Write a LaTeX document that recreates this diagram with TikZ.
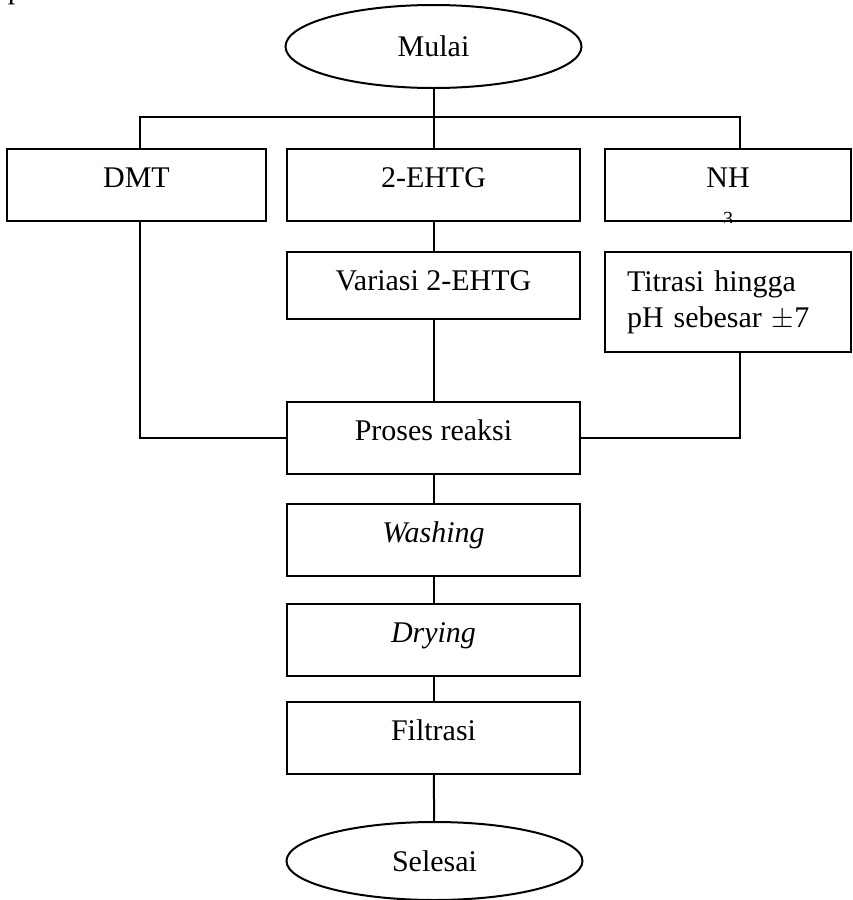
\documentclass[tikz,border=0pt]{standalone}
\usepackage{fontspec}
\setmainfont{Liberation Serif}
\usetikzlibrary{shapes.geometric}
\begin{document}
\begin{tikzpicture}[x=0.5pt, y=-0.5pt, line width=1pt,
  stepbox/.style={rectangle, draw, inner sep=0pt, minimum width=146.5pt, minimum height=36pt, text height=19pt, text depth=17pt, font=\fontsize{15}{18}\selectfont},
  endnode/.style={ellipse, draw, inner sep=0pt, minimum width=148pt, font=\fontsize{15}{18}\selectfont}]
  \useasboundingbox (0,0) rectangle (852,900);
  \node[anchor=base west, inner sep=0pt, font=\fontsize{15}{18}\selectfont] (pfrag) at (7,-1.5) {p};

  \node[endnode, minimum height=41.5pt] (mulai) at (433.5,46.5) {Mulai};
  \node[stepbox, minimum width=129.5pt] (dmt) at (136.5,185) {DMT};
  \node[stepbox] (ehtg) at (433.5,185) {2-EHTG};
  \node[stepbox, minimum width=123pt] (nh) at (728,185) {NH};
  \node[stepbox, minimum height=33.5pt, text depth=14.5pt] (variasi) at (433.5,285.5) {Variasi 2-EHTG};
  \node[rectangle, draw, minimum width=123pt, minimum height=50pt, text width=101pt, inner xsep=11pt, inner ysep=0pt, align=left, font=\fontsize{15}{18}\selectfont] (titrasi) at (728,302) {Titrasi hingga\\pH sebesar $\pm$7};
  \node[stepbox, line width=1.4pt] (reaksi) at (433.5,438) {Proses reaksi};
  \node[stepbox] (washing) at (433.5,540) {\itshape Washing};
  \node[stepbox] (drying) at (433.5,640) {\itshape Drying};
  \node[stepbox] (filtrasi) at (433.5,738) {Filtrasi};
  \node[endnode, minimum height=39pt] (selesai) at (434.5,861) {Selesai};

  \begin{scope}
    \clip (nh.south west) rectangle (nh.north east);
    \node[anchor=base, inner sep=0pt, font=\fontsize{10}{12}\selectfont] (nhsub) at (728,225.5) {3};
  \end{scope}

  \coordinate (busl) at (140,117);
  \coordinate (busr) at (740,117);
  \draw (mulai) -- (ehtg);
  \draw (dmt.north -| busl) -- (busl) -- (busr) -- (nh.north -| busr);
  \draw (ehtg) -- (variasi);
  \draw (variasi) -- (reaksi);
  \draw (dmt.south -| busl) |- (reaksi.west);
  \draw (titrasi.south -| busr) |- (reaksi.east);
  \draw (reaksi) -- (washing);
  \draw (washing) -- (drying);
  \draw (drying) -- (filtrasi);
  \draw (filtrasi) -- (selesai);
\end{tikzpicture}
\end{document}
